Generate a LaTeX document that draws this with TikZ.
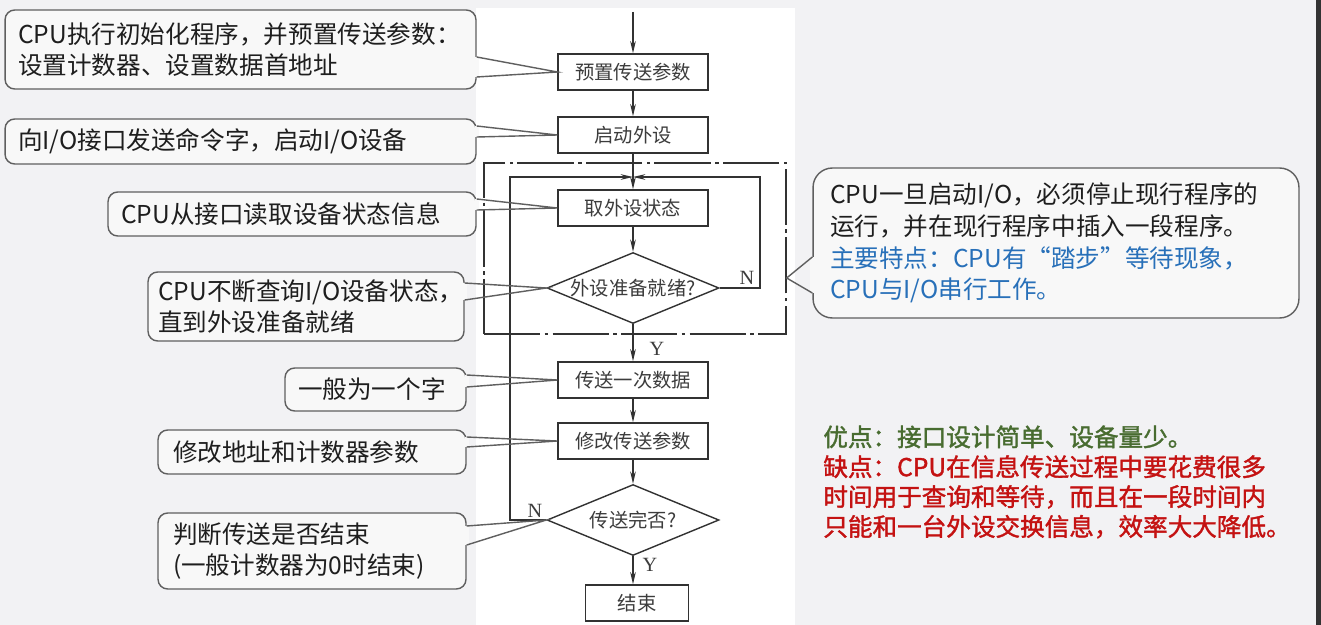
\documentclass[tikz,border=0pt]{standalone}
\usepackage{fontspec}
\usetikzlibrary{
    shapes.geometric,
    arrows.meta,
    calc
}
\newfontfamily\cjk{Noto Sans CJK SC}
\newfontfamily\cjkbold[FakeBold=1.5]{Noto Sans CJK SC}
\newfontfamily\ynfont{Liberation Serif}

\definecolor{pagegray}{RGB}{242,242,244}
\definecolor{notefill}{RGB}{248,248,248}
\definecolor{notegray}{RGB}{95,95,95}
\definecolor{notetext}{RGB}{30,30,30}
\definecolor{flowgray}{RGB}{50,50,50}
\definecolor{flowtext}{RGB}{60,60,60}
\definecolor{keyblue}{RGB}{40,112,185}
\definecolor{prosgreen}{RGB}{72,108,48}
\definecolor{consred}{RGB}{196,18,18}

\newcommand{\flowfont}{\cjk\fontsize{11pt}{13pt}\selectfont}
\newcommand{\notefont}{\cjk\fontsize{14pt}{17.5pt}\selectfont}

% pointer of a callout: node, side, two offsets, tip
\newcommand{\pointer}[5]{%
    \coordinate (pa) at ($(#1.#2)+(0,#3)$);
    \coordinate (pb) at ($(#1.#2)+(0,#4)$);
    \fill[notefill] ($(pa)+(-1.2pt,0)$) rectangle ($(pb)+(1.2pt,0)$);
    \draw[noteline] (pa) -- (#5) -- (pb);
}

\tikzset{
    >=Stealth,
    procbox/.style={
        draw=flowgray, line width=0.8pt,
        minimum width=3cm, minimum height=0.72cm,
        inner sep=0pt, font=\flowfont, text=flowtext
    },
    decision/.style={
        diamond, draw=flowgray, line width=0.8pt, aspect=2.4,
        minimum width=3.44cm, minimum height=1.42cm,
        inner sep=0pt, font=\flowfont, text=flowtext
    },
    flow/.style={
        draw=flowgray, line width=0.8pt,
        -{Stealth[length=7pt,width=3.2pt]}
    },
    looparea/.style={
        draw=flowgray, line width=0.8pt,
        dash pattern=on 32pt off 2.5pt on 2pt off 2.5pt,
        minimum width=6.04cm, minimum height=3.42cm, inner sep=0pt
    },
    note/.style={
        draw=notegray, line width=0.8pt, fill=notefill,
        rounded corners=5.5pt, align=left,
        inner xsep=0.26cm, inner ysep=0pt,
        font=\notefont, text=notetext
    },
    noteline/.style={draw=notegray, line width=0.8pt},
    yn/.style={font=\ynfont\fontsize{11.5pt}{12pt}\selectfont, text=flowtext, inner sep=0pt}
}

\begin{document}
\begin{tikzpicture}[x=0.02cm, y=-0.02cm]

    % Fondo
    \fill[pagegray] (0,0) rectangle (1321,625);
    \useasboundingbox (0,0) rectangle (1321,625);
    \fill[white] (476,8) rectangle (795,625);
    \fill[black!80] (1316,0) rectangle (1321,625);

    % Diagrama de flujo
    \coordinate (start) at (633,12);
    \node[procbox]          (box1)  at (633,72)   {预置传送参数};
    \node[procbox]          (box2)  at (633,135)  {启动外设};
    \node[looparea]         (poll)  at (635,248.5) {};
    \node[procbox]          (box3)  at (633,208)  {取外设状态};
    \node[decision]         (dia1)  at (633,288)  {外设准备就绪?};
    \node[procbox]          (box4)  at (633,380)  {传送一次数据};
    \node[procbox]          (box5)  at (633,441)  {修改传送参数};
    \node[decision]         (dia2)  at (633,520)  {传送完否?};
    \node[procbox, minimum width=2.06cm] (done) at (637,603) {结束};

    \coordinate (merge)     at (633,177);
    \coordinate (rightturn) at (760,177);
    \coordinate (leftturn)  at (510,177);

    \draw[flow] (start) -- (box1);
    \draw[flow] (box1) -- (box2);
    \draw[flow] (box2) -- (box3);
    \draw[flow] (box3) -- (dia1);
    \draw[flow] (dia1) -- (box4);
    \draw[flow] (box4) -- (box5);
    \draw[flow] (box5) -- (dia2);
    \draw[flow] (dia2.south) -- (dia2.south |- done.north);

    % Lazos
    \draw[flow] (dia1.east) -- (dia1.east -| rightturn) -- (rightturn) -- (merge);
    \draw[flow] (dia2.west) -- (dia2.west -| leftturn) -- (leftturn) -- (merge);

    \node[yn] (nready) at (747,278) {N};
    \node[yn] (yready) at (657,349) {Y};
    \node[yn] (ndone)  at (535,511) {N};
    \node[yn] (ydone)  at (650,565) {Y};

    % Llamadas
    \node[note, text width=8.9cm, minimum height=1.58cm] (initnote) at (240.5,49.5)
        {CPU执行初始化程序，并预置传送参数：\\设置计数器、设置数据首地址};
    \node[note, text width=8.9cm, minimum height=0.9cm] (startnote) at (240.5,141.5)
        {向I/O接口发送命令字，启动I/O设备};
    \node[note, text width=6.84cm, minimum height=0.88cm] (readnote) at (292,214)
        {CPU从接口读取设备状态信息};
    \node[note, inner xsep=0.2cm, text width=5.92cm, minimum height=1.38cm] (pollnote) at (306,306.5)
        {CPU不断查询I/O设备状态，\\直到外设准备就绪};
    \node[note, text width=3.1cm, minimum height=0.86cm] (wordnote) at (375.5,389.5)
        {一般为一个字};
    \node[note, inner xsep=0.3cm, text width=5.56cm, minimum height=0.88cm] (modnote) at (312,452)
        {修改地址和计数器参数};
    \node[note, inner xsep=0.3cm, text width=5.56cm, minimum height=1.52cm] (endnote) at (312,551)
        {判断传送是否结束\\(一般计数器为0时结束)};
    \node[note, rounded corners=11pt, inner xsep=0.34cm, text width=9.04cm, minimum height=3cm,
          font=\cjk\fontsize{14pt}{18pt}\selectfont] (featnote) at (1056,243)
        {CPU一旦启动I/O，必须停止现行程序的\\
         运行，并在现行程序中插入一段程序。\\
         \textcolor{keyblue}{主要特点：CPU有“踏步”等待现象，}\\
         \textcolor{keyblue}{CPU与I/O串行工作。}};

    \pointer{initnote}{east}{7.5}{27.5}{box1.west}
    \pointer{startnote}{east}{-15.5}{-4.5}{box2.west}
    \pointer{readnote}{east}{-15}{-4}{box3.west}
    \pointer{pollnote}{east}{-23.5}{-6.5}{dia1.west}
    \pointer{wordnote}{east}{-14.5}{-2.5}{box4.west}
    \pointer{modnote}{east}{-15}{-5}{box5.west}
    \pointer{endnote}{east}{-25}{-6}{dia2.west}
    \pointer{featnote}{west}{14}{50}{$(poll.east)+(0,29.5)$}

    % Ventajas y desventajas
    \node[anchor=west, align=left, inner sep=0pt,
          font=\cjkbold\fontsize{14pt}{17pt}\selectfont] (summary) at (823,482)
        {\textcolor{prosgreen}{优点：接口设计简单、设备量少。}\\
         \textcolor{consred}{缺点：CPU在信息传送过程中要花费很多}\\
         \textcolor{consred}{时间用于查询和等待，而且在一段时间内}\\
         \textcolor{consred}{只能和一台外设交换信息，效率大大降低。}};

\end{tikzpicture}
\end{document}
